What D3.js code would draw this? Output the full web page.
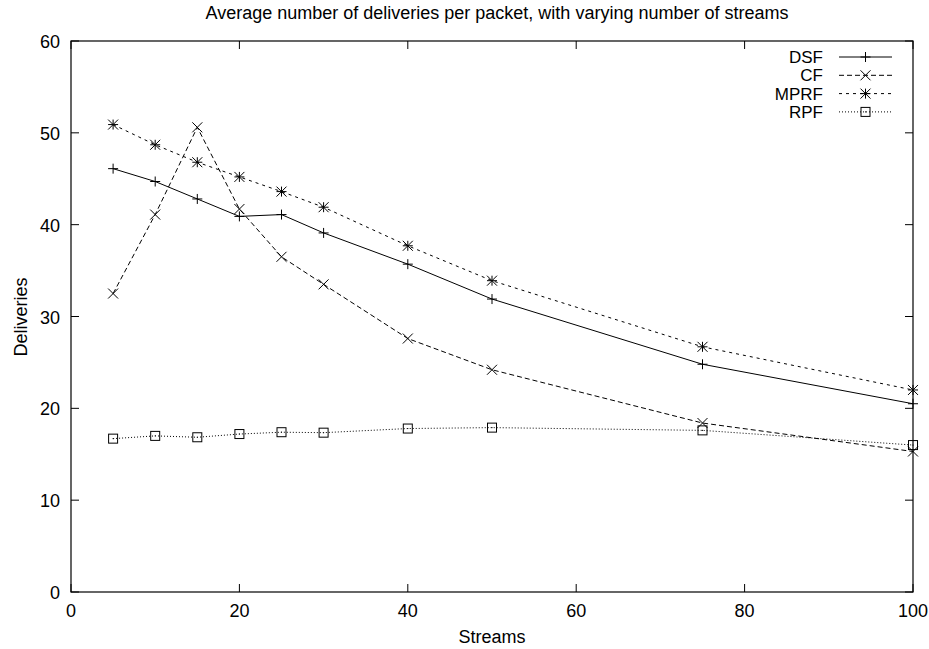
<html>
<head>
<style>
body { margin: 0; background: #fff; }
text { font-family: "Liberation Sans", Arial, sans-serif; fill: #000; }
.frame { fill: none; stroke: #000; stroke-width: 1.2px; }
.tick { stroke: #000; stroke-width: 1px; }
.series { fill: none; stroke: #000; stroke-width: 1px; }
.mark { fill: none; stroke: #000; stroke-width: 1px; }
</style>
</head>
<body>
<svg width="929" height="649"></svg>
<script src="https://d3js.org/d3.v7.min.js"></script>
<script>
// data
var streams = [5, 10, 15, 20, 25, 30, 40, 50, 75, 100]
var dsf  = [46.1, 44.7, 42.8, 40.9, 41.1, 39.1, 35.7, 31.9, 24.8, 20.5]
var cf   = [32.5, 41.1, 50.6, 41.7, 36.5, 33.5, 27.6, 24.2, 18.4, 15.3]
var mprf = [50.9, 48.7, 46.8, 45.2, 43.6, 41.9, 37.7, 33.9, 26.7, 22.0]
var rpf  = [16.7, 17.0, 16.85, 17.2, 17.4, 17.35, 17.8, 17.9, 17.6, 16.0]
var xTicks = [0, 20, 40, 60, 80, 100]
var yTicks = [0, 10, 20, 30, 40, 50, 60]

const series = [
  { name: 'DSF',  values: dsf,  dash: null,  mark: 'plus' },
  { name: 'CF',   values: cf,   dash: '5,3', mark: 'cross' },
  { name: 'MPRF', values: mprf, dash: '3,4', mark: 'star' },
  { name: 'RPF',  values: rpf,  dash: '1,2', mark: 'box' }
]

const pLeft = 71, pRight = 913, pTop = 41, pBottom = 592
const svg = d3.select('svg')
const x = d3.scaleLinear().domain([0, 100]).range([pLeft, pRight])
const y = d3.scaleLinear().domain([0, 60]).range([pBottom, pTop])
const tl = 8

// ticks, mirrored on all four sides, pointing inwards
const g = svg.append('g')
xTicks.forEach(function (t) {
  g.append('line').attr('class', 'tick').attr('x1', x(t)).attr('x2', x(t)).attr('y1', pBottom).attr('y2', pBottom - tl)
  g.append('line').attr('class', 'tick').attr('x1', x(t)).attr('x2', x(t)).attr('y1', pTop).attr('y2', pTop + tl)
  g.append('text').attr('x', x(t)).attr('y', pBottom + 25).attr('text-anchor', 'middle')
    .style('font-size', '18px').text(t)
})
yTicks.forEach(function (t) {
  g.append('line').attr('class', 'tick').attr('x1', pLeft).attr('x2', pLeft + tl).attr('y1', y(t)).attr('y2', y(t))
  g.append('line').attr('class', 'tick').attr('x1', pRight).attr('x2', pRight - tl).attr('y1', y(t)).attr('y2', y(t))
  g.append('text').attr('x', pLeft - 11).attr('y', y(t) + 7).attr('text-anchor', 'end')
    .style('font-size', '18px').text(t)
})

svg.append('rect').attr('class', 'frame')
  .attr('x', pLeft).attr('y', pTop).attr('width', pRight - pLeft).attr('height', pBottom - pTop)

svg.append('text').attr('x', 497).attr('y', 19).attr('text-anchor', 'middle')
  .style('font-size', '18px').text('Average number of deliveries per packet, with varying number of streams')
svg.append('text').attr('x', 492).attr('y', 643).attr('text-anchor', 'middle')
  .style('font-size', '18px').text('Streams')
svg.append('text').attr('transform', 'translate(27,317) rotate(-90)').attr('text-anchor', 'middle')
  .style('font-size', '18px').text('Deliveries')

function drawMark(sel, type, cx, cy) {
  const r = 5
  if (type === 'plus' || type === 'star') {
    sel.append('line').attr('class', 'mark').attr('x1', cx - r).attr('x2', cx + r).attr('y1', cy).attr('y2', cy)
    sel.append('line').attr('class', 'mark').attr('x1', cx).attr('x2', cx).attr('y1', cy - r).attr('y2', cy + r)
  }
  if (type === 'cross' || type === 'star') {
    sel.append('line').attr('class', 'mark').attr('x1', cx - r).attr('x2', cx + r).attr('y1', cy - r).attr('y2', cy + r)
    sel.append('line').attr('class', 'mark').attr('x1', cx - r).attr('x2', cx + r).attr('y1', cy + r).attr('y2', cy - r)
  }
  if (type === 'box') {
    sel.append('rect').attr('class', 'mark').attr('x', cx - 4.5).attr('y', cy - 4.5).attr('width', 9).attr('height', 9)
    sel.append('rect').attr('x', cx - 0.5).attr('y', cy - 0.5).attr('width', 1).attr('height', 1).attr('fill', '#000')
  }
}

const line = d3.line().x(function (d) { return x(d[0]) }).y(function (d) { return y(d[1]) })

series.forEach(function (s, i) {
  const pts = streams.map(function (v, j) { return [v, s.values[j]] })
  const sg = svg.append('g')
  sg.append('path').attr('class', 'series').attr('d', line(pts))
    .attr('stroke-dasharray', s.dash)
  pts.forEach(function (p) { drawMark(sg, s.mark, x(p[0]), y(p[1])) })

  // legend entry
  const ly = 57 + i * 18.3
  svg.append('text').attr('x', 823).attr('y', ly + 6).attr('text-anchor', 'end')
    .style('font-size', '17px').text(s.name)
  svg.append('line').attr('class', 'series').attr('x1', 839).attr('x2', 892).attr('y1', ly).attr('y2', ly)
    .attr('stroke-dasharray', s.dash)
  drawMark(svg, s.mark, 865.5, ly)
})
</script>
</body>
</html>
